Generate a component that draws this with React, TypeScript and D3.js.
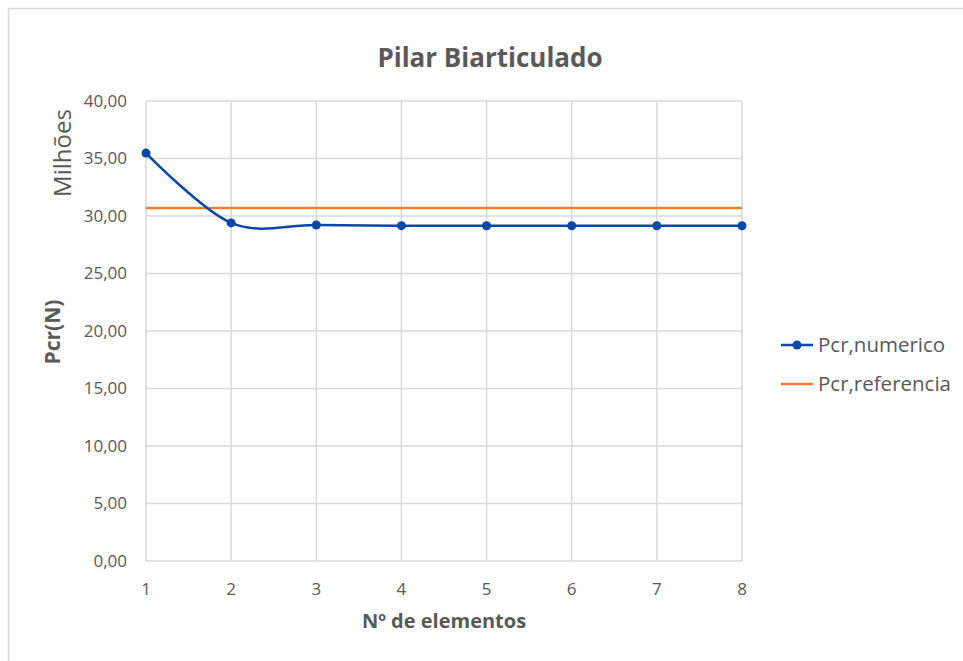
import React from "react";
import * as d3 from "d3";

const elements = [1, 2, 3, 4, 5, 6, 7, 8];
const pcrNumerico = [35.47, 29.4, 29.22, 29.16, 29.15, 29.15, 29.15, 29.15];
const pcrReferencia = [30.7, 30.7, 30.7, 30.7, 30.7, 30.7, 30.7, 30.7];
const yTicks = [0, 5, 10, 15, 20, 25, 30, 35, 40];
const seriesNames = ["Pcr,numerico", "Pcr,referencia"];

const W = 963;
const H = 661;
const FONT = "'Open Sans', sans-serif";

export default function App() {
  const x = d3.scaleLinear().domain([1, 8]).range([146, 742]);
  const y = d3.scaleLinear().domain([0, 40]).range([561, 101]);
  const fmt = (v: number) => v.toFixed(2).replace(".", ",");

  const lineNum = d3
    .line<number>()
    .x((_, i) => x(elements[i]))
    .y((d) => y(d))
    .curve(d3.curveCatmullRom.alpha(0));
  const lineRef = d3
    .line<number>()
    .x((_, i) => x(elements[i]))
    .y((d) => y(d));

  const blue = "#0a47a9";
  const orange = "#ED7D31";
  const grid = "#d9d9d9";
  const text = "#595959";

  return (
    <svg
      width={W}
      height={H}
      style={{ position: "absolute", left: 0, top: 0, background: "#fff" }}
      fontFamily={FONT}
    >
      <rect x={8.5} y={8.5} width={W} height={H} fill="#fff" stroke={grid} strokeWidth={1.5} />
      <text x={490} y={67} textAnchor="middle" fontSize={26} fontWeight="bold" fill={text}>
        Pilar Biarticulado
      </text>
      {yTicks.map((t) => (
        <line key={"h" + t} x1={146} x2={742} y1={y(t)} y2={y(t)} stroke={grid} strokeWidth={1.5} />
      ))}
      {elements.map((e) => (
        <line key={"v" + e} x1={x(e)} x2={x(e)} y1={101} y2={561} stroke={grid} strokeWidth={1.5} />
      ))}
      {yTicks.map((t) => (
        <text key={"yt" + t} x={127} y={y(t)} dy="0.35em" textAnchor="end" fontSize={17} fill={text}>
          {fmt(t)}
        </text>
      ))}
      {elements.map((e) => (
        <text key={"xt" + e} x={x(e)} y={589} dy="0.35em" textAnchor="middle" fontSize={17} fill={text}>
          {e}
        </text>
      ))}
      <text x={444} y={628} textAnchor="middle" fontSize={20} fontWeight="bold" fill={text}>
        Nº de elementos
      </text>
      <text
        transform="translate(60,332) rotate(-90)"
        textAnchor="middle"
        fontSize={21}
        fontWeight="bold"
        fill={text}
      >
        Pcr(N)
      </text>
      <text transform="translate(71,153) rotate(-90)" textAnchor="middle" fontSize={24} fill={text}>
        Milhões
      </text>
      <path d={lineRef(pcrReferencia) || ""} fill="none" stroke={orange} strokeWidth={2.5} />
      <path d={lineNum(pcrNumerico) || ""} fill="none" stroke={blue} strokeWidth={2.5} />
      {pcrNumerico.map((v, i) => (
        <circle key={"p" + i} cx={x(elements[i])} cy={y(v)} r={4.5} fill={blue} />
      ))}
      <g>
        <line x1={781} x2={813} y1={345} y2={345} stroke={blue} strokeWidth={2.5} />
        <circle cx={797} cy={345} r={4.5} fill={blue} />
        <text x={818} y={345} dy="0.35em" fontSize={20.5} fill={text}>
          {seriesNames[0]}
        </text>
        <line x1={781} x2={813} y1={384} y2={384} stroke={orange} strokeWidth={2.5} />
        <text x={818} y={384} dy="0.35em" fontSize={20.5} fill={text}>
          {seriesNames[1]}
        </text>
      </g>
    </svg>
  );
}
